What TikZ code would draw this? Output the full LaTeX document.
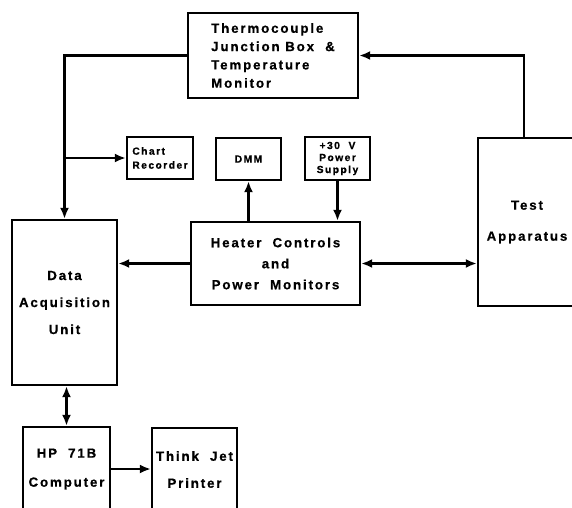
\documentclass[tikz,border=0pt]{standalone}
\usepackage{fontspec}
\newfontfamily\blockfont[LetterSpace=14, BoldFeatures={FakeBold=0.6}]{Liberation Sans}
\usetikzlibrary{arrows.meta}
\tikzstyle{arrow} = [line width=2.3pt,-{Latex[length=11pt,width=9pt]}]
\tikzstyle{twoway} = [line width=2.3pt,{Latex[length=11pt,width=9pt]}-{Latex[length=11pt,width=9pt]}]
\tikzstyle{block} = [rectangle, draw=black, line width=2.3pt, inner sep=0pt, align=center, font=\blockfont\bfseries\fontsize{13}{18}\selectfont]
\tikzstyle{smallblock} = [block, font=\blockfont\bfseries\fontsize{10.3}{13}\selectfont]

\begin{document}
\begin{tikzpicture}[x=1pt, y=-1pt]
\path[use as bounding box, fill=white] (0,0) rectangle (572,507);

\node (tc) [block, minimum width=170pt, minimum height=85pt, align=left, font=\blockfont\bfseries\fontsize{13.3}{18.3}\selectfont] at (273,55.5) {Thermocouple\\Junction\ Box\ \ \&\\Temperature\\Monitor};

\node (chart) [smallblock, minimum width=66pt, minimum height=42pt, align=left, font=\blockfont\bfseries\fontsize{10.3}{14}\selectfont] at (160,158) {Chart\\Recorder};
\node (dmm) [smallblock, minimum width=65pt, minimum height=42pt] at (248.5,159) {DMM};
\node (psu) [smallblock, minimum width=65pt, minimum height=43pt, font=\blockfont\bfseries\fontsize{10.3}{12}\selectfont] at (337.5,158.5) {+30\ \ V\\Power\\Supply};

\node (heater) [block, minimum width=169pt, minimum height=83pt, font=\blockfont\bfseries\fontsize{13.3}{21}\selectfont] at (275.5,263.5) {Heater\ \ Controls\\and\\Power\ \ Monitors};
\node (test) [block, minimum width=98pt, minimum height=168pt, font=\blockfont\bfseries\fontsize{13.3}{31}\selectfont] at (527,222) {Test\\Apparatus};
\node (dau) [block, minimum width=105pt, minimum height=165pt, font=\blockfont\bfseries\fontsize{13.3}{27}\selectfont] at (64.5,302.5) {\rule{0pt}{6pt}Data\\Acquisition\\Unit};

\node (hp) [block, minimum width=87pt, minimum height=84pt, font=\blockfont\bfseries\fontsize{13.3}{29}\selectfont] at (66.5,469) {HP\ \ 71B\\Computer};
\node (printer) [block, minimum width=85pt, minimum height=83pt, font=\blockfont\bfseries\fontsize{13.3}{27}\selectfont] at (194.5,469.5) {Think\ \ Jet\\Printer};

\coordinate (split) at (dau.north |- chart.west);

\draw [arrow] (tc.west) -| (dau.north);
\draw [arrow] (split) -- (chart.west);
\draw [arrow] ([xshift=-3pt]test.north) |- (tc.east);
\draw [arrow] (dmm.south |- heater.north) -- (dmm.south);
\draw [arrow] (psu.south) -- (psu.south |- heater.north);
\draw [arrow] (heater.west) -- (heater.west -| dau.east);
\draw [twoway] (heater.east) -- (heater.east -| test.west);
\draw [twoway] (dau.south -| hp.north) -- (hp.north);
\draw [arrow] (hp.east) -- (hp.east -| printer.west);

\end{tikzpicture}
\end{document}
